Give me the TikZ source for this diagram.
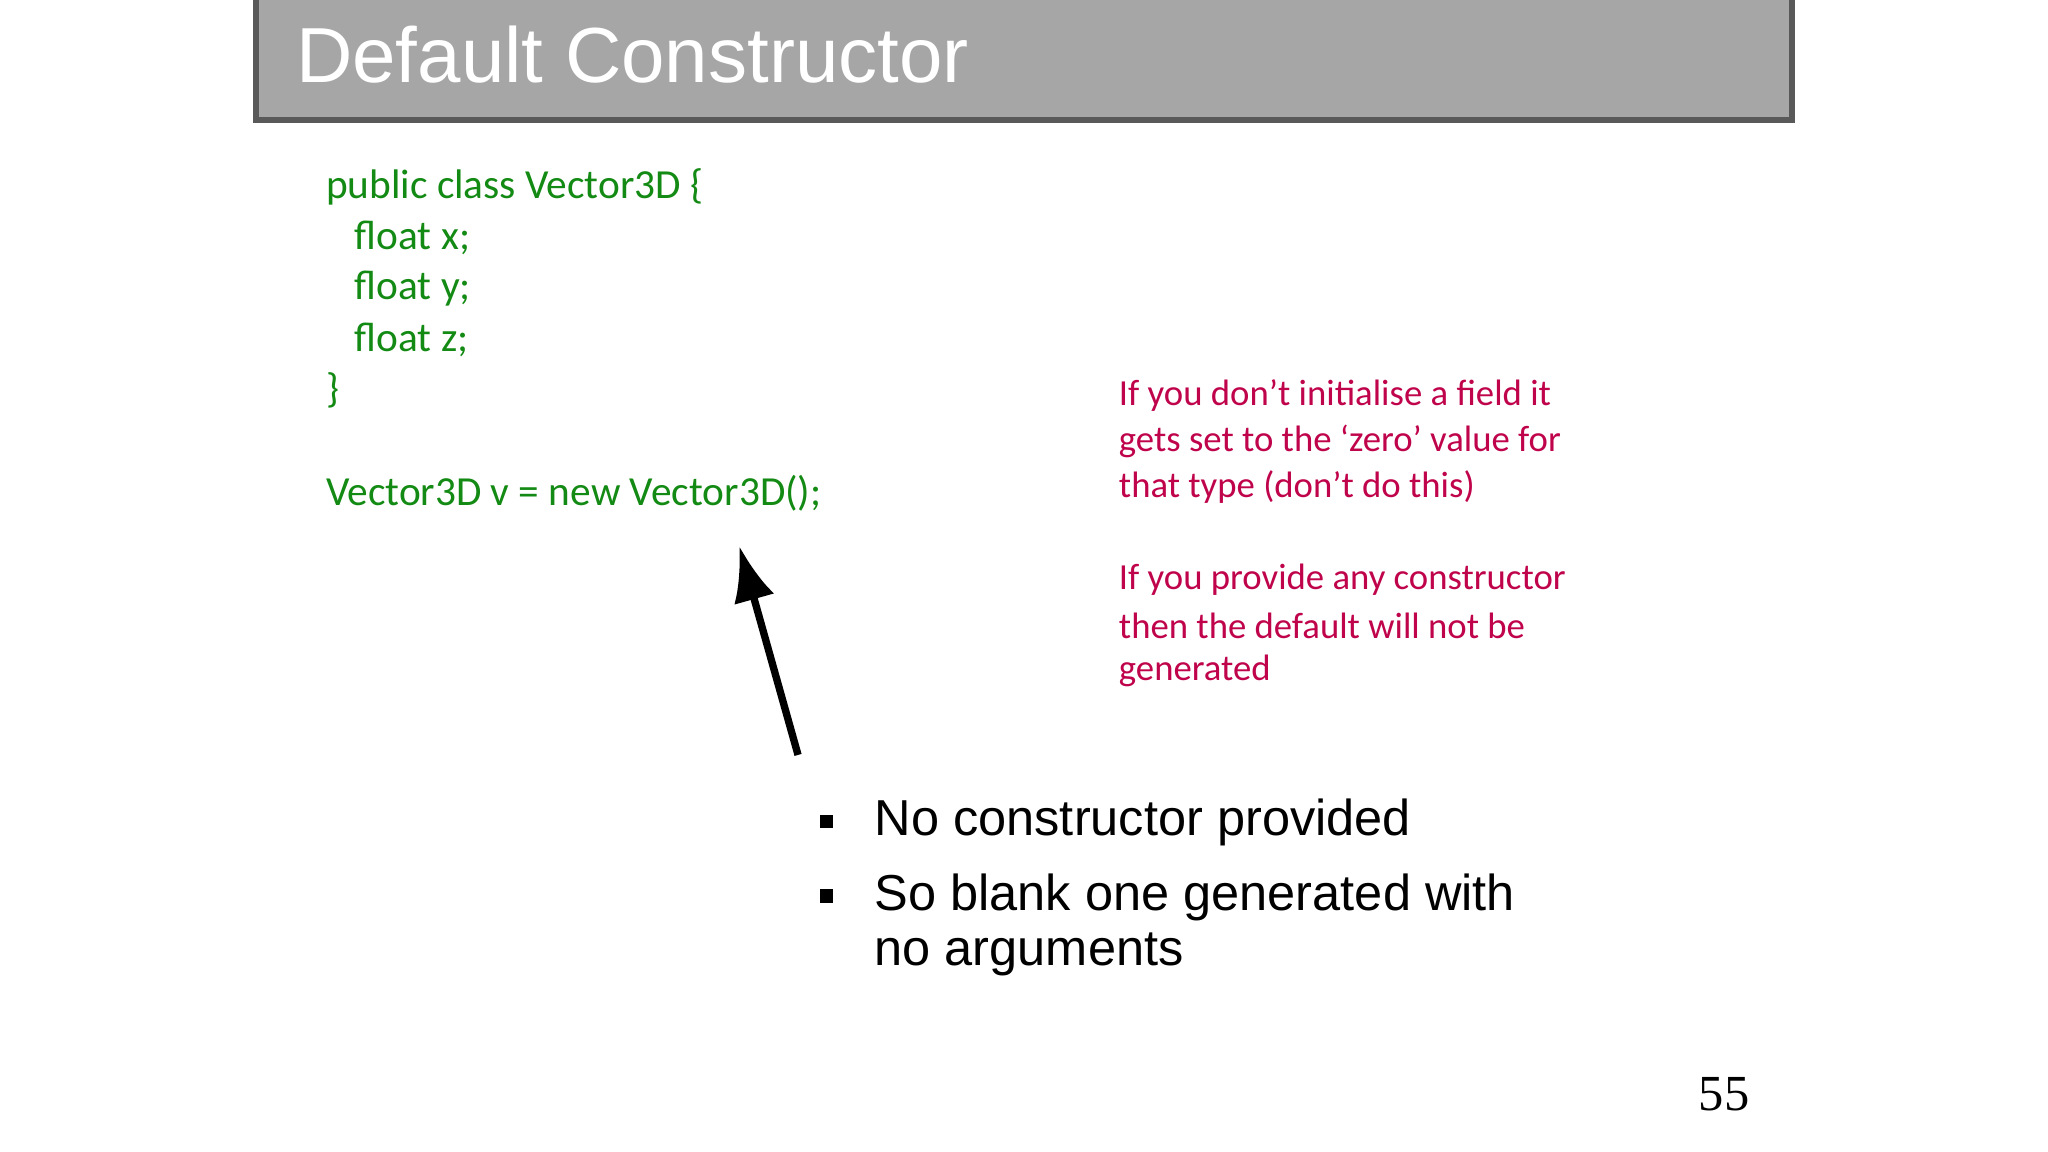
\documentclass[tikz,border=0pt]{standalone}
\usepackage{fontspec}
\usetikzlibrary{arrows.meta}
\setmainfont{Carlito}
\newfontfamily\bodyfont{Liberation Sans}
\newfontfamily\numfont{Liberation Serif}
\definecolor{codegreen}{HTML}{138A13}
\definecolor{notered}{HTML}{C0044C}
\definecolor{titlegray}{HTML}{A6A6A6}
\tikzset{
  code/.style={anchor=west, inner sep=0pt, text=codegreen, font=\fontsize{9}{11}\selectfont},
  note/.style={anchor=west, inner sep=0pt, text=notered, font=\fontsize{8}{10}\selectfont},
  bullet/.style={anchor=west, inner sep=0pt, font=\bodyfont\fontsize{11}{13}\selectfont},
}
\begin{document}
\begin{tikzpicture}[>=latex, x=0.01cm, y=-0.01cm]
    \useasboundingbox[fill=white] (0,0) rectangle (1568,882);

    % title bar
    \fill[titlegray] (196,0) rectangle (1372,92);
    \draw[gray!70!black, line width=1.2pt] (196,0) -- (196,92) -- (1372,92) -- (1372,0);
    \node[anchor=west, inner sep=0pt, text=white, font=\bodyfont\fontsize{17}{20}\selectfont] (title) at (226,42) {Default Constructor};

    % code
    \node[code] (c1) at (249,143) {public class Vector3D \{};
    \node[code] (c2) at (271,182) {float x;};
    \node[code] (c3) at (271,221) {float y;};
    \node[code] (c4) at (271,260) {float z;};
    \node[code] (c5) at (249,299) {\}};
    \node[code] (c6) at (249,378) {Vector3D v = new Vector3D();};

    % notes
    \node[note] (n1) at (856,303) {If you don’t initialise a field it};
    \node[note] (n2) at (856,338) {gets set to the ‘zero’ value for};
    \node[note] (n3) at (856,373) {that type (don’t do this)};
    \node[note] (n4) at (856,444) {If you provide any constructor};
    \node[note] (n5) at (856,479) {then the default will not be};
    \node[note] (n6) at (856,514) {generated};

    % arrow
    \coordinate (tail) at (611,578);
    \coordinate (head) at (566,418);
    \draw[-{Latex[length=12pt,width=9pt]}, line width=1.6pt] (tail) -- (head);

    % bullets
    \fill (628,624) rectangle (638,634);
    \fill (628,681) rectangle (638,691);
    \node[bullet] (b1) at (669,630) {No constructor provided};
    \node[bullet] (b2) at (669,687) {So blank one generated with};
    \node[bullet] (b3) at (669,731) {no arguments};

    \node[anchor=west, inner sep=0pt, font=\numfont\fontsize{11}{13}\selectfont] (page) at (1300,838) {55};
\end{tikzpicture}
\end{document}
